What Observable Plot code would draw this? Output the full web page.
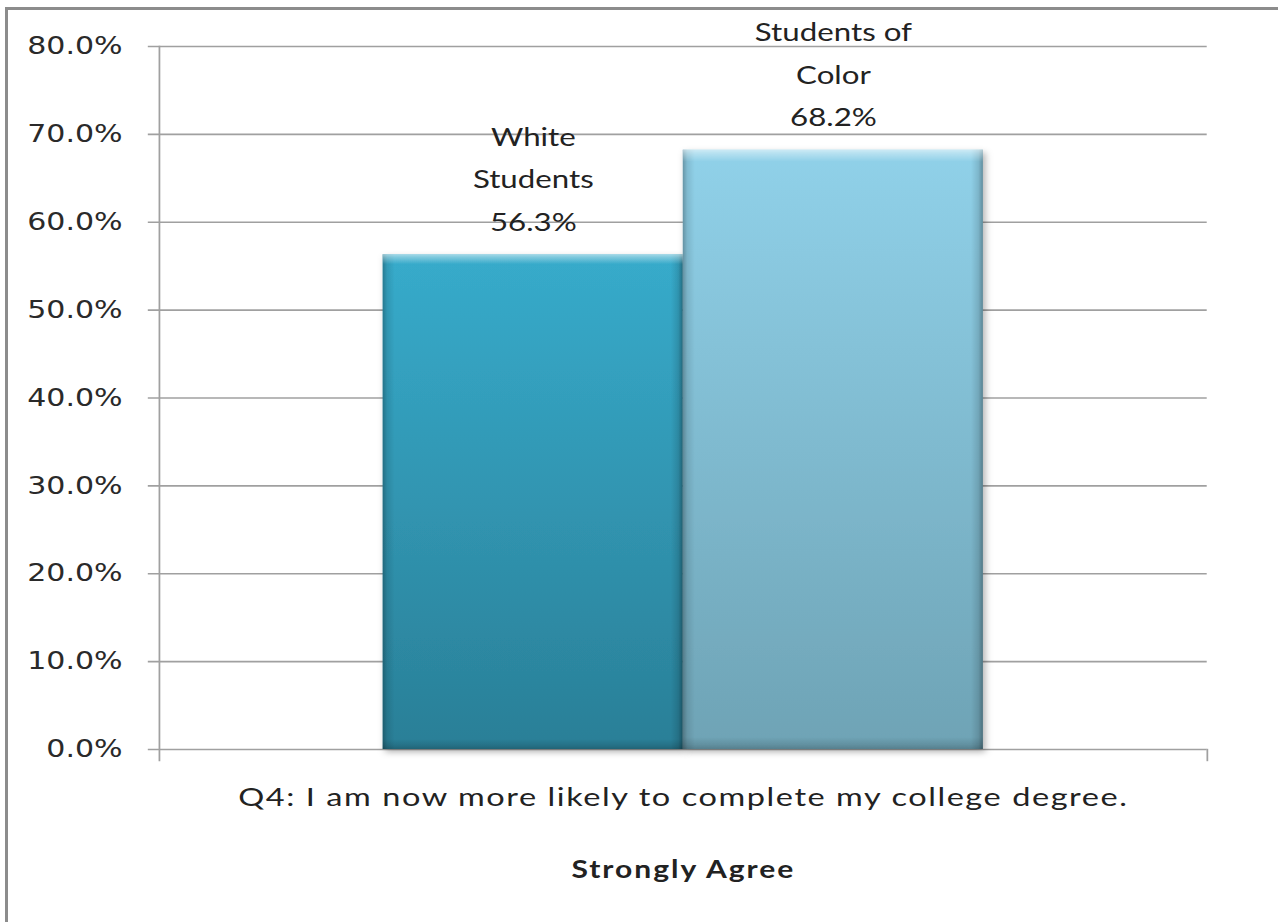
<!DOCTYPE html>
<html><head><meta charset="utf-8">
<script src="https://cdn.jsdelivr.net/npm/d3@7"></script>
<script src="https://cdn.jsdelivr.net/npm/@observablehq/plot@0.6"></script>
<style>
html,body{margin:0;padding:0;background:#fff;}
#wrap{position:relative;width:1278px;height:922px;overflow:hidden;}
#border{position:absolute;left:5px;top:7px;right:-10px;bottom:-10px;border-left:3px solid #8c8c8c;border-top:3px solid #8c8c8c;pointer-events:none;}
#chart{position:absolute;left:0;top:0;}
</style></head><body>
<div id="wrap"><div id="chart"></div><div id="border"></div></div>
<script>
// ---- data ----
const series = ["White Students", "Students of Color"];
const values = [56.3, 68.2];
const labelLines = ["White\nStudents", "Students of\nColor"];
const yTicks = [0, 10, 20, 30, 40, 50, 60, 70, 80];
const question = "Q4: I am now more likely to complete my college degree.";
const response = "Strongly Agree";
const barFills = ["url(#gWhite)", "url(#gColor)"];

const data = series.map((s, i) => ({
  series: s,
  value: values[i],
  label: labelLines[i] + "\n" + values[i].toFixed(1) + "%"
}));

const W = 1022, H = 922;

const chart = Plot.plot({
  width: W, height: H,
  marginTop: 46, marginBottom: 173, marginLeft: 127, marginRight: 57,
  style: {background: "transparent", fontFamily: "Lato"},
  x: {domain: series, paddingInner: 0, paddingOuter: 0.741, axis: null},
  y: {domain: [0, 80], axis: null},
  marks: [
    Plot.ruleY(yTicks, {stroke: "#a0a0a0", strokeWidth: 1.6, insetLeft: -8.8}),
    ...series.map((s, i) => Plot.barY(data.filter(d => d.series === s), {x: "series", y: "value", fill: barFills[i]})),
    Plot.barY(data, {x: "series", y: "value", fill: "url(#edgeH)"}),
    Plot.barY(data, {x: "series", y: "value", fill: "url(#edgeV)"}),
    Plot.frame({anchor: "left", stroke: "#a0a0a0", strokeWidth: 1.4, insetBottom: -11}),
    Plot.frame({anchor: "right", stroke: "#a0a0a0", strokeWidth: 1.4, insetTop: 703, insetBottom: -11}),
    Plot.axisY({ticks: yTicks, tickFormat: d => d.toFixed(1) + "%", tickSize: 0, tickPadding: 29.5,
      fontSize: 24, fontFamily: "DejaVu Sans", color: "#2a2a2a", label: null}),
    Plot.text(data, {x: "series", y: "value", text: "label", lineAnchor: "bottom", lineHeight: 1.7,
      dy: -24, fontSize: 25, fontFamily: "Lato", fill: "#222"}),
    Plot.text([question], {frameAnchor: "bottom", dy: 56, fontSize: 26, fontFamily: "Lato", fill: "#222"}),
    Plot.text([response], {frameAnchor: "bottom", dy: 128, fontSize: 24, fontWeight: "bold", fontFamily: "Lato", fill: "#222"})
  ]
});

// gradients and shadow
const svg = d3.select(chart);
const defs = svg.insert("defs", ":first-child");
function vgrad(id, stops) {
  const g = defs.append("linearGradient").attr("id", id).attr("x1", 0).attr("y1", 0).attr("x2", 0).attr("y2", 1);
  stops.forEach(([o, c, a]) => g.append("stop").attr("offset", o).attr("stop-color", c).attr("stop-opacity", a == null ? 1 : a));
}
function hgrad(id, stops) {
  const g = defs.append("linearGradient").attr("id", id).attr("x1", 0).attr("y1", 0).attr("x2", 1).attr("y2", 0);
  stops.forEach(([o, c, a]) => g.append("stop").attr("offset", o).attr("stop-color", c).attr("stop-opacity", a == null ? 1 : a));
}
vgrad("gWhite", [["0%", "#37abcb"], ["100%", "#2a7f97"]]);
vgrad("gColor", [["0%", "#90d1e9"], ["100%", "#6ea3b5"]]);
hgrad("edgeH", [["0%", "#000", 0.28], ["1.5%", "#000", 0.10], ["4%", "#000", 0], ["96%", "#000", 0], ["98.5%", "#000", 0.12], ["100%", "#000", 0.32]]);
vgrad("edgeV", [["0%", "#ffffff", 0.55], ["0.6%", "#ffffff", 0.35], ["2%", "#ffffff", 0.0], ["98%", "#000", 0], ["99.3%", "#000", 0.12], ["100%", "#000", 0.22]]);
const f = defs.append("filter").attr("id", "shadow").attr("x", "-10%").attr("y", "-10%").attr("width", "130%").attr("height", "130%");
f.append("feDropShadow").attr("dx", 2).attr("dy", 3).attr("stdDeviation", 3).attr("flood-color", "#000").attr("flood-opacity", 0.3);
svg.selectAll('g[aria-label="bar"]').filter((d, i) => i < 2).attr("filter", "url(#shadow)");

// letter spacing of the category texts (Calibri-like wide setting in the reference)
const textGroups = svg.selectAll('g[aria-label="text"]').nodes();
d3.select(textGroups[textGroups.length - 2]).attr("letter-spacing", 1.25);
d3.select(textGroups[textGroups.length - 1]).attr("letter-spacing", 1.6);

// horizontal stretch as in the reference image
chart.setAttribute("viewBox", `0 0 ${W} ${H}`);
chart.setAttribute("width", 1278);
chart.setAttribute("height", H);
chart.setAttribute("preserveAspectRatio", "none");
chart.style.width = "1278px";
chart.style.height = H + "px";
chart.style.maxWidth = "none";

document.getElementById("chart").appendChild(chart);
</script>
</body></html>
